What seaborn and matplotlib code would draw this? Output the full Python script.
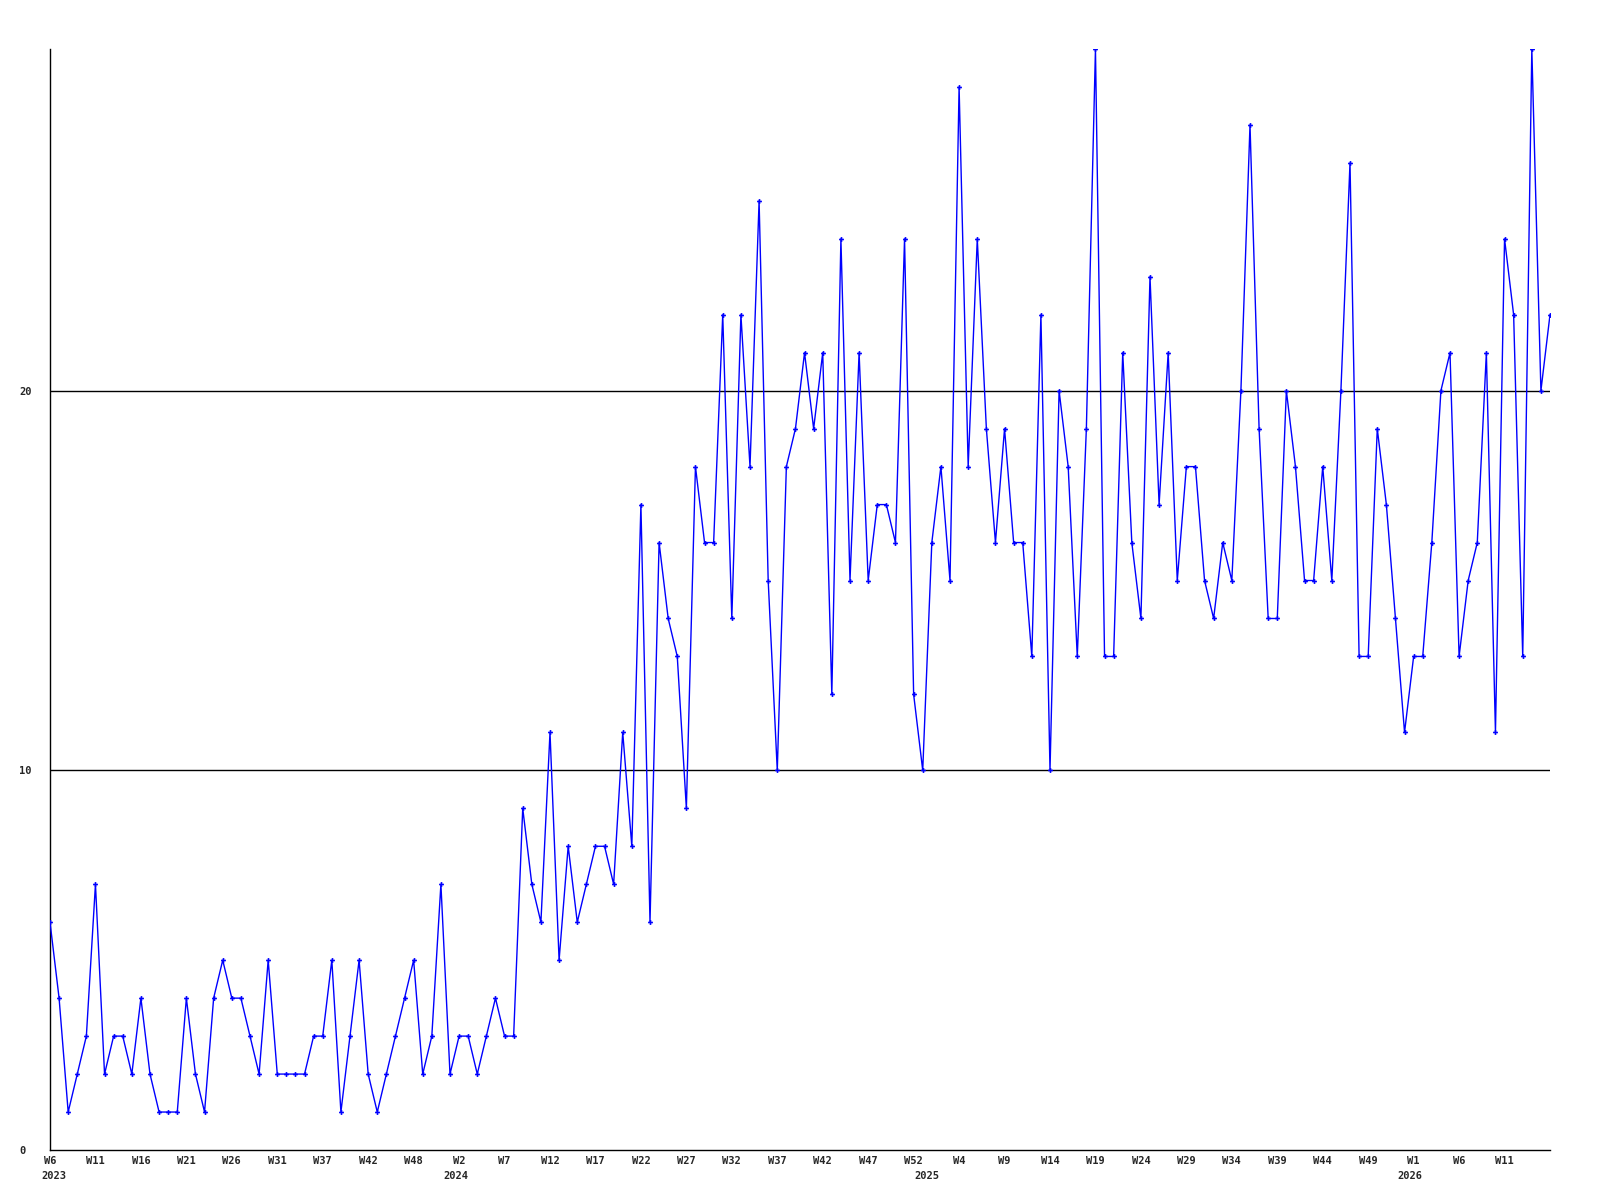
import pandas as pd
import numpy as np
import seaborn as sns
import matplotlib
matplotlib.use("Agg")
import matplotlib.pyplot as plt

## weekly counts, 2023 W6 onwards (one value per point)
counts_2023 = [6, 4, 1, 2, 3, 7, 2, 3, 3, 2, 4, 2, 1, 1, 1, 4, 2, 1, 4, 5, 4, 4, 3, 2, 5, 2, 2, 2, 2,
               3, 3, 5, 1, 3, 5, 2, 1, 2, 3, 4, 5, 2, 3, 7]
counts_2024 = [2, 3, 3, 2, 3, 4, 3, 3, 9, 7, 6, 11, 5, 8,
               6, 7, 8, 8, 7, 11, 8, 17, 6, 16, 14, 13, 9, 18, 16, 16, 22, 14, 22, 18, 25, 15, 10, 18, 19,
               21, 19, 21, 12, 24, 15, 21, 15, 17, 17, 16, 24]
counts_2025 = [12, 10, 16, 18, 15, 28, 18, 24, 19, 16, 19, 16, 16, 13, 22,
               10, 20, 18, 13, 19, 29, 13, 13, 21, 16, 14, 23, 17, 21, 15, 18, 18, 15, 14, 16, 15, 20, 27, 19, 14, 14, 20,
               18, 15, 15, 18, 15, 20, 26, 13, 13, 19, 17, 14]
counts_2026 = [11, 13, 13, 16, 20, 21, 13, 15, 16, 21, 11, 24, 22, 13, 29, 20, 22]

week_labels = ["W6", "W11", "W16", "W21", "W26", "W31", "W37", "W42", "W48",
               "W2", "W7", "W12", "W17", "W22", "W27", "W32", "W37", "W42", "W47", "W52",
               "W4", "W9", "W14", "W19", "W24", "W29", "W34", "W39", "W44", "W49",
               "W1", "W6", "W11"]
years = ["2023", "2024", "2025", "2026"]
year_pos = [0.4, 44.6, 96.5, 149.6]

counts = counts_2023 + counts_2024 + counts_2025 + counts_2026
df = pd.DataFrame({"week": np.arange(len(counts)), "count": counts})

sns.set_style("white")
mono = {"family": "DejaVu Sans Mono", "weight": "bold", "size": 7.5}

fig = plt.figure(figsize=(16, 12), dpi=100)
ax = fig.add_axes([50 / 1600, 50 / 1200, 1500 / 1600, 1101 / 1200])

ax.axhline(10, color="black", lw=1, zorder=1)
ax.axhline(20, color="black", lw=1, zorder=1)
sns.lineplot(data=df, x="week", y="count", color="#0000ff", lw=1,
             marker="P", markersize=3.5, markeredgewidth=0, ax=ax, zorder=3)

ax.set_xlim(0, len(counts) - 1)
ax.set_ylim(0, 29)
ax.set_xticks(np.arange(len(week_labels)) * 5)
ax.set_xticklabels(week_labels, fontdict=mono)
ax.set_yticks([0, 10, 20])
ax.set_yticklabels(["0", "10", "20"], fontdict=mono, ha="left")
ax.tick_params(axis="x", length=0, pad=4)
ax.tick_params(axis="y", length=0, pad=22)
ax.set_xlabel("")
ax.set_ylabel("")

for y, p in zip(years, year_pos):
    ax.text(p, -0.024, y, transform=ax.get_xaxis_transform(), ha="center", va="center", **mono)

for s in ["top", "right"]:
    ax.spines[s].set_visible(False)
for s in ["left", "bottom"]:
    ax.spines[s].set_color("black")
    ax.spines[s].set_linewidth(1)

fig.savefig("out.png", dpi=100, facecolor="white")
